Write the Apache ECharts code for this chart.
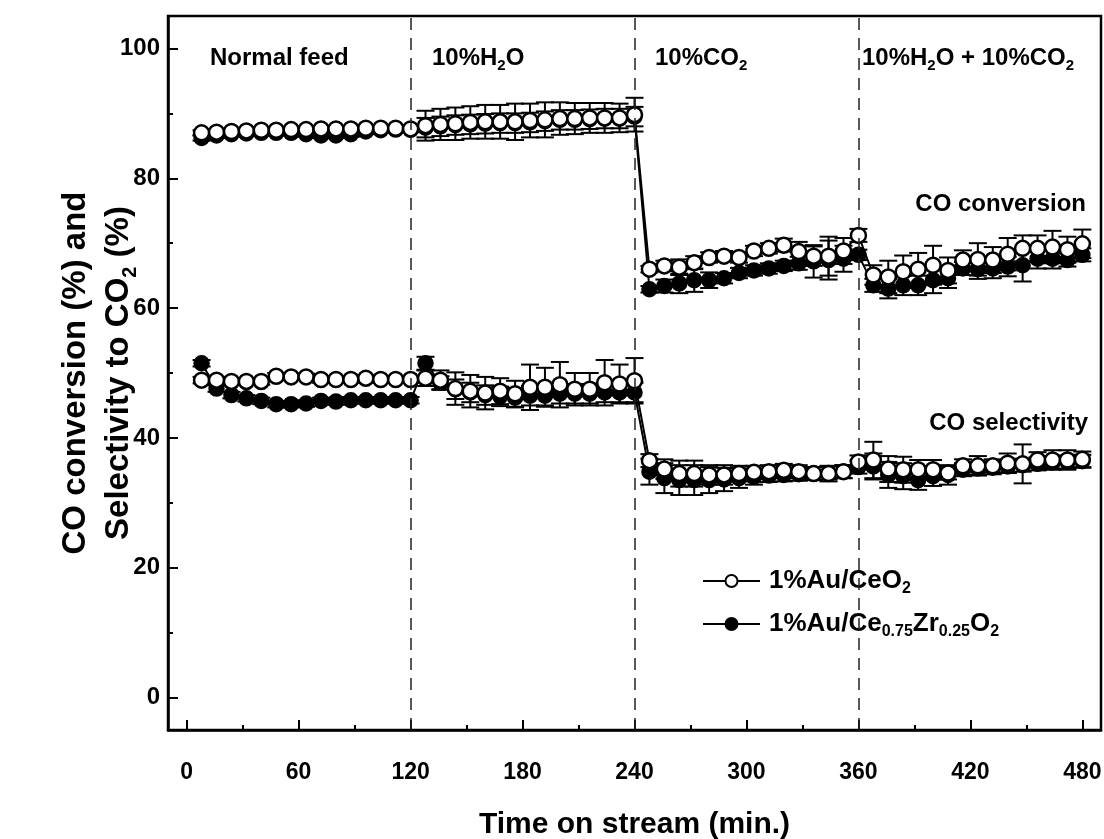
<!DOCTYPE html>
<html><head><meta charset="utf-8">
<script src="https://cdn.jsdelivr.net/npm/echarts@6/dist/echarts.min.js"></script>
<style>html,body{margin:0;padding:0;background:#fff}#c{width:1104px;height:839px}</style>
</head><body><div id="c"></div>
<script>
// ---------- data ----------
const times = [8,16,24,32,40,48,56,64,72,80,88,96,104,112,120,
  128,136,144,152,160,168,176,184,192,200,208,216,224,232,240,
  248,256,264,272,280,288,296,304,312,320,328,336,344,352,360,
  368,376,384,392,400,408,416,424,432,440,448,456,464,472,480];

const seriesNames = ['1%Au/CeO2', '1%Au/Ce0.75Zr0.25O2'];

// CO conversion
const convCeO2 = [87.0,87.1,87.2,87.3,87.4,87.4,87.5,87.5,87.6,87.6,87.6,87.7,87.7,87.7,87.6,
  88.1,88.3,88.4,88.6,88.7,88.7,88.7,88.9,89.0,89.2,89.2,89.3,89.3,89.3,89.8,
  66.0,66.5,66.3,67.0,67.8,68.0,67.8,68.8,69.2,69.7,68.7,68.0,68.0,68.8,71.2,
  65.1,64.8,65.6,66.0,66.6,65.8,67.4,67.5,67.4,68.3,69.2,69.2,69.4,69.0,69.9];
const convCeZr = [86.2,86.6,86.8,86.9,87.0,87.0,87.0,86.8,86.6,86.6,86.8,87.2,87.4,87.5,87.5,
  87.8,88.0,88.2,88.3,88.4,88.5,88.5,88.6,88.8,89.0,89.0,89.1,89.2,89.2,89.5,
  62.9,63.4,63.8,64.3,64.3,64.6,65.4,65.8,66.1,66.5,66.9,67.2,67.4,67.6,68.2,
  63.5,63.0,63.5,63.5,64.3,64.6,66.1,66.0,66.1,66.4,66.6,67.6,67.6,67.4,68.2];
// CO selectivity
const selCeO2 = [48.9,48.9,48.7,48.7,48.7,49.5,49.4,49.4,49.0,49.0,49.0,49.2,49.0,49.0,49.0,
  49.2,48.9,47.6,47.2,46.9,47.2,46.8,47.8,47.8,48.2,47.5,47.5,48.5,48.3,48.8,
  36.5,35.2,34.5,34.5,34.3,34.3,34.5,34.7,34.8,35.0,34.8,34.5,34.5,34.8,36.3,
  36.6,35.2,35.1,35.1,35.1,34.6,35.7,35.7,35.7,36.1,36.0,36.6,36.6,36.6,36.7];
const selCeZr = [51.5,47.6,46.6,46.1,45.7,45.2,45.2,45.3,45.7,45.6,45.8,45.8,45.8,45.8,45.8,
  51.5,48.5,47.5,47.0,46.6,46.4,46.2,46.5,46.5,46.8,46.8,46.8,47.0,47.0,47.0,
  34.8,33.8,33.5,33.5,33.5,33.6,33.8,34.0,34.2,34.3,34.4,34.5,34.6,34.8,35.5,
  35.6,34.3,34.1,33.5,34.1,34.3,35.1,35.3,35.4,35.6,35.8,36.0,36.2,36.3,36.4];

// error bars (± half width)
const convCeO2Err = [0.4,0.4,0.4,0.4,0.4,0.4,0.4,0.4,0.4,0.4,0.4,0.4,0.4,0.4,0.4,
  2.3,2.4,2.5,2.5,2.6,2.6,2.8,2.6,2.7,2.5,2.4,2.3,2.3,2.2,2.6,
  0.5,0.8,1.2,1.0,0.8,0.8,0.8,0.8,0.8,1.0,1.5,1.5,3.0,2.0,1.0,
  1.5,2.5,2.5,2.5,3.0,2.0,1.5,2.5,2.0,2.5,2.0,2.0,2.5,2.0,2.2];
const convCeZrErr = [0.4,0.4,0.4,0.4,0.4,0.4,0.4,0.4,0.4,0.4,0.4,0.4,0.4,0.4,0.4,
  1.5,1.5,1.5,1.5,1.5,1.5,1.5,1.5,1.5,1.5,1.5,1.5,1.5,1.5,1.5,
  0.5,1.0,1.5,1.8,1.2,0.8,0.8,0.8,0.8,0.8,1.0,2.5,3.0,2.0,0.8,
  1.0,1.5,1.5,1.5,2.0,1.5,1.0,1.5,1.5,1.5,2.5,1.5,1.5,1.0,1.0];
const selCeO2Err = [0.5,0.5,0.5,0.5,0.5,0.5,0.5,0.5,0.5,0.5,0.5,0.5,0.5,0.5,0.5,
  1.2,1.5,2.5,2.5,2.5,2.0,2.0,3.5,3.0,3.5,2.5,2.5,3.5,3.0,3.5,
  1.0,1.5,2.0,2.0,1.5,1.5,1.2,1.0,1.0,1.0,1.0,1.0,1.2,1.0,1.0,
  2.8,2.0,2.0,1.5,1.5,1.0,1.0,1.5,1.0,1.5,3.0,1.2,1.5,1.5,1.2];
const selCeZrErr = [0.5,0.5,0.5,0.5,0.5,0.5,0.5,0.5,0.5,0.5,0.5,0.5,0.5,0.5,0.5,
  1.0,1.0,1.5,1.5,1.5,1.5,1.5,1.5,1.5,1.5,1.5,1.5,1.5,1.5,1.5,
  2.0,2.3,2.3,2.3,2.0,1.8,1.5,1.2,1.0,1.0,1.0,1.0,1.0,1.0,1.0,
  2.0,2.0,2.0,1.5,1.5,1.5,1.0,1.0,1.0,1.0,1.0,1.0,1.0,1.0,1.0];

const xMajorTicks = [0,60,120,180,240,300,360,420,480];
const xMinorTicks = [30,90,150,210,270,330,390,450];
const yMajorTicks = [0,20,40,60,80,100];
const yMinorTicks = [10,30,50,70,90];
const feedBoundaries = [120,240,360];
const feedLabels = ['Normal feed', '10%H{s|2}O', '10%CO{s|2}', '10%H{s|2}O + 10%CO{s|2}'];
const curveLabels = ['CO conversion', 'CO selectivity'];

// ---------- chart ----------
const FONT = "'Liberation Sans', Arial, sans-serif";
const chart = echarts.init(document.getElementById('c'), null, {renderer: 'canvas'});

function pairs(ys) { return times.map((t, i) => [t, ys[i]]); }
function errData(ys, es) {
  const out = [];
  times.forEach((t, i) => { if (es[i] > 0) out.push([t, ys[i] - es[i], ys[i] + es[i]]); });
  return out;
}
function errSeries(ys, es, z) {
  return {
    type: 'custom', z: z, silent: true, animation: false,
    data: errData(ys, es),
    encode: {x: 0, y: [1, 2]},
    renderItem: function (params, api) {
      const x = api.value(0);
      const lo = api.coord([x, api.value(1)]);
      const hi = api.coord([x, api.value(2)]);
      const w = 9;
      const st = {stroke: '#000', lineWidth: 2};
      return {type: 'group', children: [
        {type: 'line', shape: {x1: lo[0], y1: lo[1], x2: hi[0], y2: hi[1]}, style: st},
        {type: 'line', shape: {x1: hi[0] - w, y1: hi[1], x2: hi[0] + w, y2: hi[1]}, style: st},
        {type: 'line', shape: {x1: lo[0] - w, y1: lo[1], x2: lo[0] + w, y2: lo[1]}, style: st}
      ]};
    }
  };
}
function lineSeries(name, ys, open, z) {
  return {
    name: name, type: 'line', z: z, data: pairs(ys),
    symbol: 'circle', symbolSize: 15, showSymbol: true,
    lineStyle: {color: '#000', width: 2},
    itemStyle: open ? {color: '#fff', borderColor: '#000', borderWidth: 2.5}
                    : {color: '#000', borderColor: '#000', borderWidth: 1.5},
    emphasis: {disabled: true}, animation: false
  };
}

const richBase = {
  a: {fontFamily: FONT, fontWeight: 'bold', fontSize: 24, color: '#000', lineHeight: 30},
  s: {fontFamily: FONT, fontWeight: 'bold', fontSize: 15, color: '#000', lineHeight: 15, verticalAlign: 'bottom'}
};
const richLegend = {
  a: {fontFamily: FONT, fontWeight: 'bold', fontSize: 26, color: '#000', lineHeight: 32},
  s: {fontFamily: FONT, fontWeight: 'bold', fontSize: 16, color: '#000', lineHeight: 16, verticalAlign: 'bottom'}
};
function richify(txt) {
  return txt.split(/(\{s\|[^}]*\})/).filter(p => p.length).map(p => p.startsWith('{s|') ? p : '{a|' + p + '}').join('');
}

const feedLeft = [210, 432, 655, 862];
const graphics = feedLabels.map((lab, i) => ({
  type: 'text', left: feedLeft[i], top: 46, z: 100,
  style: {text: richify(lab), rich: richBase}
}));
graphics.push({type: 'text', right: 18, top: 192, z: 100,
  style: {text: richify(curveLabels[0]), rich: richBase}});
graphics.push({type: 'text', right: 16, top: 411, z: 100,
  style: {text: richify(curveLabels[1]), rich: richBase}});

const option = {
  backgroundColor: '#fff',
  animation: false,
  grid: {left: 168, top: 16, width: 933, height: 714, show: true, borderColor: '#000', borderWidth: 2.5,
         containLabel: false, outerBoundsMode: 'none'},
  xAxis: [{
    type: 'value', min: -10, max: 490, position: 'bottom',
    axisLine: {show: true, onZero: false, lineStyle: {color: '#000', width: 2.5}},
    axisTick: {show: true, inside: true, length: 10, customValues: xMajorTicks, lineStyle: {color: '#000', width: 2}},
    axisLabel: {customValues: xMajorTicks, margin: 31, color: '#000', fontFamily: FONT, fontWeight: 'bold', fontSize: 23},
    splitLine: {show: false},
    name: 'Time on stream (min.)', nameLocation: 'middle', nameGap: 80, nameMoveOverlap: false,
    nameTextStyle: {color: '#000', fontFamily: FONT, fontWeight: 'bold', fontSize: 30}
  }, {
    type: 'value', min: -10, max: 490, position: 'bottom',
    axisLine: {show: false, onZero: false},
    axisTick: {show: true, inside: true, length: 5, customValues: xMinorTicks, lineStyle: {color: '#000', width: 2}},
    axisLabel: {show: false}, splitLine: {show: false}
  }],
  yAxis: [{
    type: 'value', min: -5, max: 105, position: 'left',
    axisLine: {show: true, onZero: false, lineStyle: {color: '#000', width: 2.5}},
    axisTick: {show: true, inside: true, length: 10, customValues: yMajorTicks, lineStyle: {color: '#000', width: 2}},
    axisLabel: {customValues: yMajorTicks, margin: 8, color: '#000', fontFamily: FONT, fontWeight: 'bold', fontSize: 24},
    splitLine: {show: false},
    name: '{t|CO conversion (%) and}\n{t|Selectivity to CO}{u|2}{t| (%)}',
    nameLocation: 'middle', nameRotate: 90, nameGap: 28, nameMoveOverlap: false,
    nameTextStyle: {
      rich: {
        t: {fontFamily: FONT, fontWeight: 'bold', fontSize: 33, color: '#000', lineHeight: 43},
        u: {fontFamily: FONT, fontWeight: 'bold', fontSize: 20, color: '#000', lineHeight: 20, verticalAlign: 'bottom'}
      }
    }
  }, {
    type: 'value', min: -5, max: 105, position: 'left',
    axisLine: {show: false, onZero: false},
    axisTick: {show: true, inside: true, length: 5, customValues: yMinorTicks, lineStyle: {color: '#000', width: 2}},
    axisLabel: {show: false}, splitLine: {show: false}
  }],
  legend: {
    data: seriesNames, orient: 'vertical', left: 697, top: 563,
    itemWidth: 57, itemHeight: 15, itemGap: 14,
    selectedMode: false,
    formatter: function (n) {
      return n === seriesNames[0] ? '{a|1%Au/CeO}{s|2}' : '{a|1%Au/Ce}{s|0.75}{a|Zr}{s|0.25}{a|O}{s|2}';
    },
    textStyle: {rich: richLegend, padding: [0, 0, 0, 4]}
  },
  graphic: graphics,
  series: [
    errSeries(convCeZr, convCeZrErr, 1),
    errSeries(selCeZr, selCeZrErr, 1),
    errSeries(convCeO2, convCeO2Err, 1),
    errSeries(selCeO2, selCeO2Err, 1),
    Object.assign(lineSeries(seriesNames[1], convCeZr, false, 2), {
      markLine: {
        silent: true, symbol: ['none', 'none'], label: {show: false}, animation: false,
        lineStyle: {type: [12, 8], color: '#222', width: 1.5},
        data: feedBoundaries.map(v => ({xAxis: v}))
      }
    }),
    lineSeries(seriesNames[1], selCeZr, false, 2),
    lineSeries(seriesNames[0], convCeO2, true, 3),
    lineSeries(seriesNames[0], selCeO2, true, 3)
  ]
};
chart.setOption(option);
</script>
</body></html>
